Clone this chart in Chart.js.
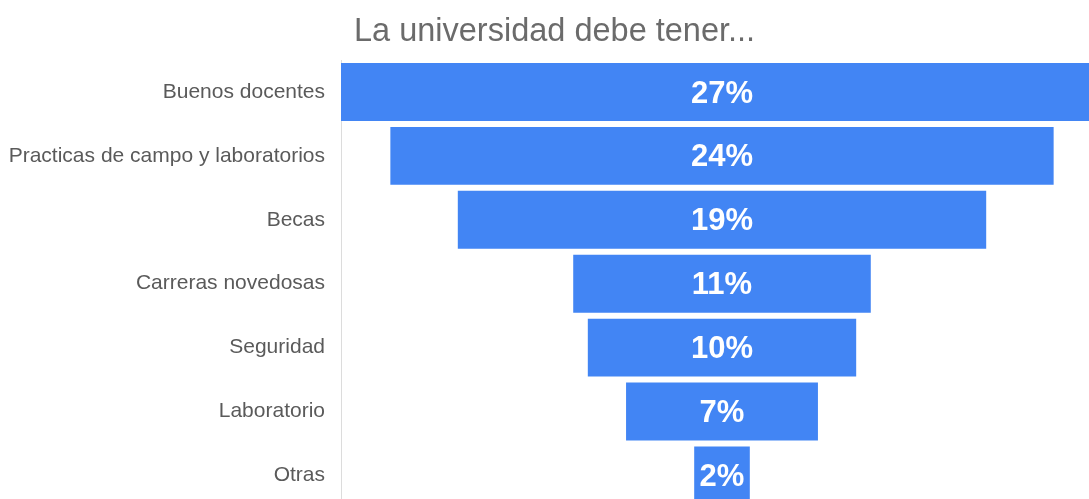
<!DOCTYPE html>
<html>
<head>
<meta charset="utf-8">
<script src="https://cdn.jsdelivr.net/npm/chart.js@4/dist/chart.umd.min.js"></script>
<style>
  html, body { margin: 0; padding: 0; overflow: hidden; background: #fff; }
  #chart { display: block; }
</style>
</head>
<body>
<canvas id="chart" width="1103" height="536"></canvas>
<script>
const titleText = 'La universidad debe tener...';
const categories = [
    'Buenos docentes',
    'Practicas de campo y laboratorios',
    'Becas',
    'Carreras novedosas',
    'Seguridad',
    'Laboratorio',
    'Otras'
];
// percent of answers
const percents = [27.4, 23.85, 19.0, 10.7, 9.65, 6.9, 2.0];

const FONT = "'Liberation Sans', Arial, sans-serif";
const half = Math.max(...percents) / 2;

// funnel: each bar is centred on 0
const ranges = percents.map(p => [-p / 2, p / 2]);

const titlePlugin = {
    id: 'leftTitle',
    afterDraw(chart) {
        const ctx = chart.ctx;
        ctx.save();
        ctx.font = '32.5px ' + FONT;
        ctx.fillStyle = '#6b6b6b';
        ctx.textAlign = 'left';
        ctx.textBaseline = 'alphabetic';
        ctx.fillText(titleText, chart.chartArea.left + 13, 41);
        ctx.restore();
    }
};

const valueLabels = {
    id: 'valueLabels',
    afterDatasetsDraw(chart) {
        const ctx = chart.ctx;
        const meta = chart.getDatasetMeta(0);
        ctx.save();
        ctx.font = 'bold 31px ' + FONT;
        ctx.fillStyle = '#ffffff';
        ctx.textAlign = 'center';
        ctx.textBaseline = 'middle';
        meta.data.forEach((bar, i) => {
            const cx = (bar.x + bar.base) / 2;
            ctx.fillText(Math.round(percents[i]) + '%', cx, bar.y + 2);
        });
        ctx.restore();
    }
};

const ctx = document.getElementById('chart').getContext('2d');
new Chart(ctx, {
    type: 'bar',
    data: {
        labels: categories,
        datasets: [{
            data: ranges,
            backgroundColor: '#4285f4',
            borderWidth: 0,
            barPercentage: 0.906,
            categoryPercentage: 1
        }]
    },
    options: {
        indexAxis: 'y',
        responsive: false,
        animation: false,
        layout: { padding: { top: 60, left: 0, right: 0, bottom: 0 } },
        plugins: {
            legend: { display: false },
            tooltip: { enabled: false }
        },
        scales: {
            x: {
                display: false,
                min: -half,
                max: half
            },
            y: {
                grid: { display: false, drawTicks: false },
                border: { display: true, color: '#dcdcdc', width: 1 },
                ticks: {
                    color: '#5a5a5a',
                    padding: 16,
                    font: { family: FONT, size: 21 }
                },
                afterFit(scale) { scale.width = 341; }
            }
        }
    },
    plugins: [titlePlugin, valueLabels]
});
</script>
</body>
</html>
